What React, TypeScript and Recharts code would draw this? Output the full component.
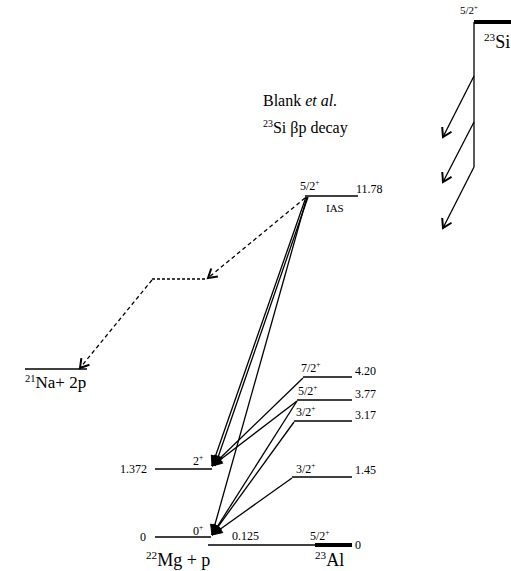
import { ComposedChart, XAxis, YAxis, ReferenceLine, Scatter } from "recharts";

// Level scheme drawn in diagram units (x across, y down from the top of the figure).

// 23Al states fed in the beta decay, with the IAS on top
const alLevels = [
  { id: "ias", x1: 305, x2: 358, y: 196 },
  { id: "4.20", x1: 303, x2: 352, y: 377 },
  { id: "3.77", x1: 297, x2: 352, y: 400 },
  { id: "3.17", x1: 294, x2: 352, y: 421 },
  { id: "1.45", x1: 292, x2: 352, y: 477 },
];

// 22Mg + p thresholds
const mgLevels = [
  { id: "2+", x1: 155, x2: 212, y: 469 },
  { id: "0+", x1: 155, x2: 211, y: 537 },
];

// 23Al ground state line (thick end is the 5/2+ state)
const alGround = { x1: 208, x2: 352, thick: 315, y: 545 };

// 21Na + 2p and the intermediate (dashed) level
const naLevel = { x1: 25, x2: 87, y: 369 };
const midLevel = { x1: 152, x2: 207, y: 279 };

// 23Si parent
const siLevel = { x1: 474, x2: 511, y: 22, stemEnd: 167 };
const betaFeeds = [
  { from: [474, 76], to: [443, 137] },
  { from: [474, 122], to: [443, 182] },
  { from: [474, 167], to: [443, 228] },
];

// proton transitions (solid)
const protonLines = [
  { from: [306, 197], to: [212, 466] },
  { from: [308, 197], to: [215, 466] },
  { from: [307, 197], to: [212, 535] },
  { from: [303, 378], to: [212, 466] },
  { from: [297, 401], to: [212, 466] },
  { from: [297, 401], to: [212, 535] },
  { from: [294, 422], to: [212, 535] },
  { from: [292, 478], to: [212, 535] },
];

// two-proton path (dashed)
const twoProton = [
  { from: [305, 198], to: [208, 278] },
  { from: [152, 280], to: [80, 368] },
];

const labels = [
  { x: 263, y: 106, text: "Blank *et al.*", size: 16 },
  { x: 263, y: 133, text: "^{23}Si βp decay", size: 16 },
  { x: 300, y: 190, text: "5/2^{+}", size: 12 },
  { x: 356, y: 193, text: "11.78", size: 12 },
  { x: 326, y: 212, text: "IAS", size: 11 },
  { x: 301, y: 372, text: "7/2^{+}", size: 12 },
  { x: 355, y: 375, text: "4.20", size: 12 },
  { x: 298, y: 395, text: "5/2^{+}", size: 12 },
  { x: 355, y: 398, text: "3.77", size: 12 },
  { x: 296, y: 416, text: "3/2^{+}", size: 12 },
  { x: 355, y: 419, text: "3.17", size: 12 },
  { x: 296, y: 473, text: "3/2^{+}", size: 12 },
  { x: 355, y: 474, text: "1.45", size: 12 },
  { x: 120, y: 473, text: "1.372", size: 12 },
  { x: 193, y: 465, text: "2^{+}", size: 12 },
  { x: 140, y: 541, text: "0", size: 12 },
  { x: 193, y: 535, text: "0^{+}", size: 12 },
  { x: 232, y: 540, text: "0.125", size: 12 },
  { x: 310, y: 540, text: "5/2^{+}", size: 12 },
  { x: 355, y: 549, text: "0", size: 12 },
  { x: 146, y: 566, text: "^{22}Mg + p", size: 18 },
  { x: 315, y: 566, text: "^{23}Al", size: 18 },
  { x: 25, y: 388, text: "^{21}Na+ 2p", size: 17 },
  { x: 460, y: 14, text: "5/2^{+}", size: 11 },
  { x: 484, y: 48, text: "^{23}Si", size: 18 },
];

const W = 511;
const H = 571;
const INK = "#000";
const SERIF = "Liberation Serif, Times New Roman, DejaVu Serif, serif";

function splitText(s: string) {
  const out: { t: string; sup?: boolean; it?: boolean }[] = [];
  const re = /\^\{([^}]*)\}|\*([^*]*)\*|([^^*]+)/g;
  let m: RegExpExecArray | null;
  while ((m = re.exec(s))) {
    if (m[1] !== undefined) out.push({ t: m[1], sup: true });
    else if (m[2] !== undefined) out.push({ t: m[2], it: true });
    else out.push({ t: m[3] });
  }
  return out;
}

function renderLabel(p: any) {
  const { cx, cy, payload } = p;
  const size = payload.size;
  const shift = size * 0.38;
  let raised = false;
  return (
    <text x={cx} y={cy} style={{ fontFamily: SERIF, fontSize: size }} fill={INK}>
      {splitText(payload.text).map((part, i) => {
        let dy = 0;
        if (part.sup && !raised) dy = -shift;
        if (!part.sup && raised) dy = shift;
        raised = !!part.sup;
        return (
          <tspan
            key={i}
            dy={dy}
            style={{
              fontFamily: SERIF,
              fontSize: part.sup ? size * 0.62 : size,
              fontStyle: part.it ? "italic" : "normal",
            }}
          >
            {part.t}
          </tspan>
        );
      })}
    </text>
  );
}

function arrowShape(kind: "solid" | "open" | "dashed") {
  return (p: any) => {
    const { x1, y1, x2, y2 } = p;
    const ang = Math.atan2(y2 - y1, x2 - x1);
    const len = kind === "solid" ? 11 : 10;
    const spread = kind === "solid" ? 0.4 : 0.55;
    const ax = x2 - len * Math.cos(ang - spread);
    const ay = y2 - len * Math.sin(ang - spread);
    const bx = x2 - len * Math.cos(ang + spread);
    const by = y2 - len * Math.sin(ang + spread);
    return (
      <g>
        <line
          x1={x1}
          y1={y1}
          x2={x2}
          y2={y2}
          stroke={INK}
          strokeWidth={1.3}
          strokeDasharray={kind === "dashed" ? "4 3" : undefined}
        />
        {kind === "solid" ? (
          <polygon points={`${ax},${ay} ${x2},${y2} ${bx},${by}`} fill={INK} stroke={INK} strokeWidth={1} />
        ) : (
          <polyline
            points={`${ax},${ay} ${x2},${y2} ${bx},${by}`}
            fill="none"
            stroke={INK}
            strokeWidth={2}
          />
        )}
      </g>
    );
  };
}

const seg = (x1: number, x2: number, y: number) => [
  { x: x1, y },
  { x: x2, y },
];

export default function App() {
  return (
    <div style={{ position: "absolute", left: 0, top: 0, background: "#fff" }}>
      <ComposedChart width={W} height={H} margin={{ top: 0, right: 0, bottom: 0, left: 0 }}>
        <XAxis type="number" dataKey="x" domain={[0, W]} hide />
        <YAxis type="number" dataKey="y" domain={[0, H]} reversed hide />

        {alLevels.map((l) => (
          <ReferenceLine key={l.id} segment={seg(l.x1, l.x2, l.y)} stroke={INK} strokeWidth={1.3} />
        ))}
        {mgLevels.map((l) => (
          <ReferenceLine key={l.id} segment={seg(l.x1, l.x2, l.y)} stroke={INK} strokeWidth={1.3} />
        ))}
        <ReferenceLine segment={seg(alGround.x1, alGround.x2, alGround.y)} stroke={INK} strokeWidth={1.3} />
        <ReferenceLine segment={seg(alGround.thick, alGround.x2, alGround.y)} stroke={INK} strokeWidth={4} />
        <ReferenceLine segment={seg(naLevel.x1, naLevel.x2, naLevel.y)} stroke={INK} strokeWidth={1.3} />
        <ReferenceLine
          segment={seg(midLevel.x1, midLevel.x2, midLevel.y)}
          stroke={INK}
          strokeWidth={1.3}
          strokeDasharray="3 2"
        />

        <ReferenceLine segment={seg(siLevel.x1, siLevel.x2, siLevel.y)} stroke={INK} strokeWidth={4} />
        <ReferenceLine
          segment={[
            { x: siLevel.x1, y: siLevel.y },
            { x: siLevel.x1, y: siLevel.stemEnd },
          ]}
          stroke={INK}
          strokeWidth={1.3}
        />
        {betaFeeds.map((a, i) => (
          <ReferenceLine
            key={`b${i}`}
            segment={[
              { x: a.from[0], y: a.from[1] },
              { x: a.to[0], y: a.to[1] },
            ]}
            shape={arrowShape("open")}
          />
        ))}

        {protonLines.map((a, i) => (
          <ReferenceLine
            key={`p${i}`}
            segment={[
              { x: a.from[0], y: a.from[1] },
              { x: a.to[0], y: a.to[1] },
            ]}
            shape={arrowShape("solid")}
          />
        ))}
        {twoProton.map((a, i) => (
          <ReferenceLine
            key={`d${i}`}
            segment={[
              { x: a.from[0], y: a.from[1] },
              { x: a.to[0], y: a.to[1] },
            ]}
            shape={arrowShape("dashed")}
          />
        ))}

        <Scatter data={labels} shape={renderLabel} isAnimationActive={false} />
      </ComposedChart>
    </div>
  );
}
